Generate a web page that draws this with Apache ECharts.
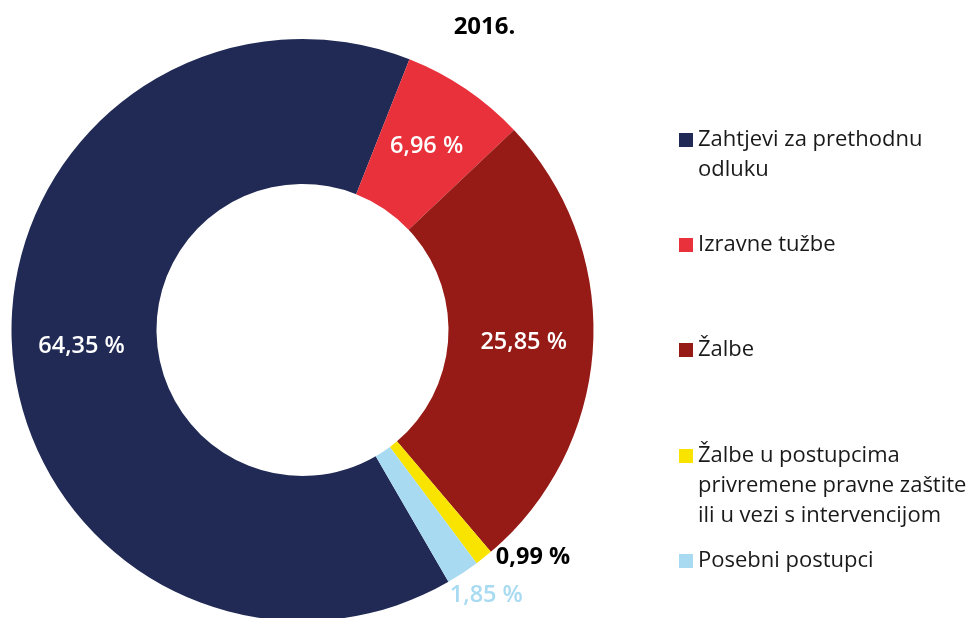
<!DOCTYPE html>
<html>
<head>
<meta charset="utf-8">
<script src="https://cdn.jsdelivr.net/npm/echarts@6/dist/echarts.min.js"></script>
<style>
  html, body { margin: 0; padding: 0; background: #fff; }
  #chart { width: 969px; height: 618px; }
</style>
</head>
<body>
<div id="chart"></div>
<script>
const title = '2016.';
const categories = [
  'Zahtjevi za prethodnu odluku',
  'Izravne tužbe',
  'Žalbe',
  'Žalbe u postupcima privremene pravne zaštite ili u vezi s intervencijom',
  'Posebni postupci'
];
const values = [64.35, 6.96, 25.85, 0.99, 1.85];
const legendLines = [
  ['Zahtjevi za prethodnu', 'odluku'],
  ['Izravne tužbe'],
  ['Žalbe'],
  ['Žalbe u postupcima', 'privremene pravne zaštite', 'ili u vezi s intervencijom'],
  ['Posebni postupci']
];
const colors = ['#202a55', '#e8313a', '#961a15', '#f9e400', '#a8daf2'];

const font = '"Open Sans", sans-serif';
const lineH = 30;
// first-line centre of each legend entry
const legendY = [140, 245, 350, 456, 561];

const chart = echarts.init(document.getElementById('chart'));

const fmt = v => v.toFixed(2).replace('.', ',') + ' %';

// blank lines in front keep the icon level with the first text line
const legends = categories.map((name, i) => {
  const n = legendLines[i].length;
  const pad = new Array(n - 1).fill(' ');
  return {
    orient: 'vertical',
    left: 679,
    top: legendY[i] - (2 * n - 1) * lineH / 2,
    padding: 0,
    itemWidth: 14,
    itemHeight: 14,
    icon: 'rect',
    selectedMode: false,
    data: [name],
    formatter: () => pad.concat(legendLines[i]).join('\n'),
    textStyle: {
      fontFamily: font,
      fontSize: 22,
      color: '#1a1a1a',
      lineHeight: lineH
    }
  };
});

const labelStyles = [
  { color: '#fff' },
  { color: '#fff' },
  { color: '#fff' },
  { color: '#000', fontWeight: 'bold', position: 'outside' },
  { color: '#a8daf2', position: 'outside' }
];

chart.setOption({
  animation: false,
  color: colors,
  title: {
    text: title,
    left: 'center',
    top: 15,
    padding: 0,
    textStyle: { fontFamily: font, fontSize: 24, fontWeight: 'bold', color: '#000' }
  },
  legend: legends,
  series: [{
    type: 'pie',
    center: [302.5, 330],
    radius: [146, 291],
    startAngle: 300.1,
    clockwise: true,
    avoidLabelOverlap: false,
    emphasis: { disabled: true },
    label: {
      position: 'inside',
      fontFamily: font,
      fontSize: 23.5,
      fontWeight: 600,
      formatter: p => fmt(p.value)
    },
    labelLine: { show: false, length: 0, length2: 7 },
    labelLayout: p => (p.dataIndex === 4 ? { dx: -25, dy: 22 } : {}),
    data: categories.map((name, i) => ({
      name: name,
      value: values[i],
      label: labelStyles[i]
    }))
  }]
});
</script>
</body>
</html>
